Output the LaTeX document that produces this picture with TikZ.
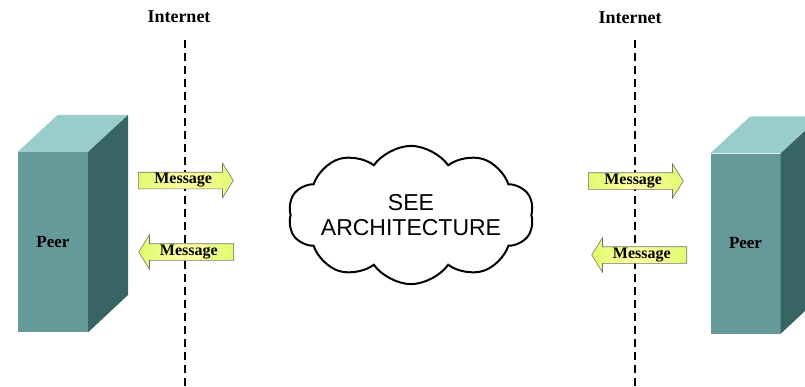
\documentclass[tikz,border=0pt]{standalone}
\usepackage{fontspec}
\setmainfont{Liberation Serif}
\setsansfont{Liberation Sans}
\usetikzlibrary{shapes.arrows,shapes.symbols,positioning}
\definecolor{peer-front}{RGB}{102,153,153}
\definecolor{peer-top}{RGB}{153,204,204}
\definecolor{peer-side}{RGB}{57,100,100}
\definecolor{msg-lime}{RGB}{225,250,110}
\definecolor{msg-pale}{RGB}{255,255,165}

\begin{document}
\begin{tikzpicture}[x=1pt, y=-1pt,
    peer/.style={fill=peer-front, minimum width=70pt, minimum height=180pt, inner sep=0pt, font=\fontsize{17}{20}\selectfont\bfseries},
    msg/.style={single arrow, draw=black!55, line width=0.6pt, left color=msg-lime, right color=msg-lime, middle color=msg-pale,
      minimum height=95pt, minimum width=33pt, single arrow head extend=9pt, single arrow tip angle=116,
      inner xsep=2pt, inner ysep=1pt, font=\fontsize{16}{18}\selectfont\bfseries},
    inet/.style={font=\fontsize{18}{20}\selectfont\bfseries},
    wire/.style={line width=1.3pt, dash pattern=on 8pt off 5pt}]
  \clip (0,0) rectangle (805,386);

  % network boundaries
  \node[inet] (netL) at (179,17) {Internet};
  \node[inet] (netR) at (630,18) {Internet};
  \coordinate (netLtop) at (185,40);  \coordinate (netLbot) at (185,386);
  \coordinate (netRtop) at (635,40);  \coordinate (netRbot) at (635,386);
  \draw[wire] (netLtop) -- (netLbot);
  \draw[wire] (netRtop) -- (netRbot);

  % the two peers as boxes
  \node[peer] (peerL) at (53,242) {Peer};
  \node[peer] (peerR) at (745.5,243.5) {Peer};
  \foreach \p in {peerL,peerR}{
    \fill[peer-top] (\p.north west) -- ++(40,-37) -- ++(70,0) -- (\p.north east) -- cycle;
    \fill[peer-side] (\p.north east) -- ++(40,-37) -- ++(0,180) -- (\p.south east) -- cycle;
  }

  % messages crossing the boundaries
  \node[msg, anchor=tail] (msgL1) at (138,180.5) {Message};
  \node[msg, anchor=tail, shape border rotate=180] (msgL2) at (234,252) {Message};
  \node[msg, anchor=tail] (msgR1) at (588,181) {Message};
  \node[msg, anchor=tail, shape border rotate=180] (msgR2) at (687,255) {Message};

  \node[cloud, draw, line width=2pt, cloud puffs=10, cloud puff arc=110, aspect=2.3,
        inner xsep=-5pt, inner ysep=-12pt, align=center,
        font=\sffamily\fontsize{23}{25}\selectfont] (see) at (411,215) {SEE\\ARCHITECTURE};
\end{tikzpicture}
\end{document}
